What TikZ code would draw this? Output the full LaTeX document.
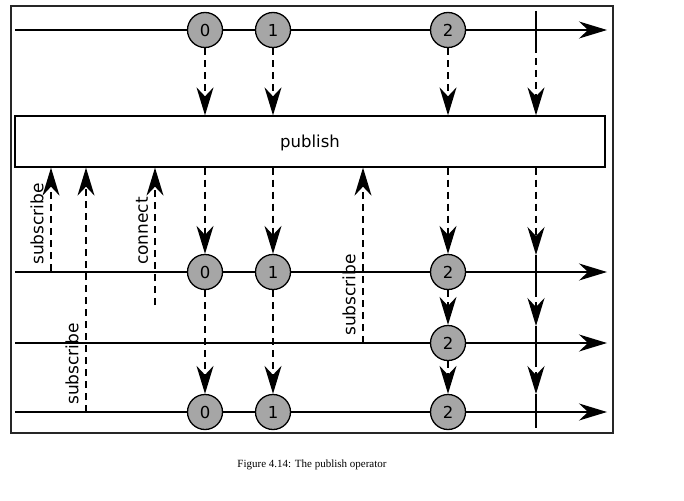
\documentclass[tikz,border=0pt]{standalone}
\usepackage{fontspec}
\setmainfont{Liberation Serif}
\setsansfont{DejaVu Sans}
\usetikzlibrary{arrows.meta}

\tikzset{
  tip/.style={-{Stealth[length=28pt,width=17pt,inset=9pt]}},
  timeline/.style={line width=1.6pt, tip},
  emit/.style={line width=1.5pt, dash pattern=on 7pt off 5pt, tip},
  donebar/.style={line width=1.6pt},
  marble/.style={circle, draw, line width=1.3pt, fill=gray!70, minimum size=35pt,
    inner sep=0pt, font=\sffamily\fontsize{16.5}{19}\selectfont},
  oplabel/.style={rotate=90, font=\sffamily\fontsize{17}{20}\selectfont, inner sep=0pt}
}

\begin{document}
\begin{tikzpicture}[x=1pt, y=-1pt]
  \useasboundingbox (0,0) rectangle (684,500);
  \draw[line width=1.2pt, black!85] (11,6) rectangle (613,433);

  % the four time lines
  \foreach \name/\y in {top/30, first/272, second/343, third/412} {
    \coordinate (\name start) at (15,\y);
    \coordinate (\name end) at (607,\y);
    \draw[timeline] (\name start) -- (\name end);
  }

  % source marbles
  \foreach \v/\x in {0/205, 1/273, 2/448}
    \node[marble] (top\v) at (\x,30) {\v};
  \coordinate (topbarA) at (536,11);
  \coordinate (topbarB) at (536,46);
  \draw[donebar] (topbarA) -- (topbarB);

  \node[draw, line width=1.3pt, minimum width=590pt, minimum height=51pt, text depth=0pt,
    font=\sffamily\fontsize{16.5}{19}\selectfont] (publish) at (310,141.5) {publish};

  \foreach \v in {0,1,2}
    \draw[emit] (top\v) -- (top\v |- publish.north);
  \draw[emit] (topbarB) -- (topbarB |- publish.north);

  % subscribers
  \foreach \v/\x in {0/205, 1/273, 2/448} {
    \node[marble] (first\v) at (\x,272) {\v};
    \node[marble] (third\v) at (\x,412) {\v};
  }
  \node[marble] (second2) at (448,343) {2};

  \foreach \v in {0,1,2}
    \draw[emit] (first\v |- publish.south) -- (first\v);
  \foreach \v in {0,1}
    \draw[emit] (first\v) -- (third\v);
  \draw[emit] (first2) -- (second2);
  \draw[emit] (second2) -- (third2);

  % completion
  \foreach \name/\a/\b in {firstbar/255/290, secondbar/326/360, thirdbar/394/428} {
    \coordinate (\name A) at (536,\a);
    \coordinate (\name B) at (536,\b);
    \draw[donebar] (\name A) -- (\name B);
  }
  \draw[emit] (firstbarA |- publish.south) -- (firstbarA);
  \draw[emit] (firstbarB) -- (secondbarA);
  \draw[emit] (secondbarB) -- (thirdbarA);

  % subscribe and connect calls
  \coordinate (subA) at (51,271);
  \coordinate (subB) at (86,412);
  \coordinate (conn) at (155,305);
  \coordinate (subC) at (363,343);
  \foreach \c in {subA, subB, conn, subC}
    \draw[emit] (\c) -- (\c |- publish.south);
  \node[oplabel] (subAlabel) at (37,224) {subscribe};
  \node[oplabel] (subBlabel) at (72,364) {subscribe};
  \node[oplabel] (connlabel) at (142,231) {connect};
  \node[oplabel] (subClabel) at (349,295) {subscribe};

  \node[font=\fontsize{11}{13}\selectfont] (caption) at (312,465)
    {Figure 4.14: The publish operator};
\end{tikzpicture}
\end{document}
